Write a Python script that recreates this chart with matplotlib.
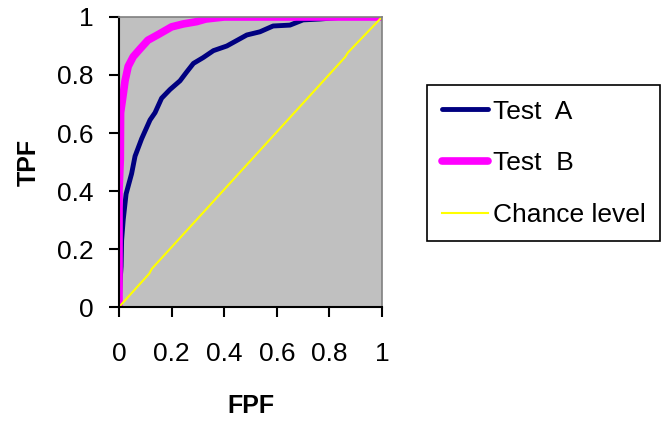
import matplotlib.pyplot as plt

# ROC curve points
fpf_a = [0.0, 0.005, 0.008, 0.01, 0.016, 0.027, 0.048, 0.061, 0.086, 0.118, 0.137,
         0.162, 0.194, 0.232, 0.257, 0.283, 0.32, 0.359, 0.41, 0.486, 0.536,
         0.586, 0.65, 0.70, 0.764, 0.86, 1.0]
tpf_a = [0.0, 0.10, 0.14, 0.23, 0.30, 0.39, 0.46, 0.52, 0.58, 0.645, 0.67,
         0.72, 0.75, 0.78, 0.81, 0.84, 0.86, 0.884, 0.90, 0.938, 0.949,
         0.969, 0.972, 0.99, 0.993, 1.0, 1.0]

fpf_b = [0.0, 0.0, 0.005, 0.006, 0.017, 0.023, 0.035, 0.054, 0.08, 0.11, 0.15,
         0.20, 0.244, 0.295, 0.33, 0.40, 1.0]
tpf_b = [0.0, 0.40, 0.51, 0.67, 0.74, 0.78, 0.83, 0.863, 0.89, 0.92, 0.94,
         0.966, 0.976, 0.984, 0.993, 1.0, 1.0]

fpf_c = [0.0, 0.115, 0.125, 0.86, 0.87, 1.0]
tpf_c = [0.0, 0.115, 0.132, 0.862, 0.877, 1.0]

ticks = [0, 0.2, 0.4, 0.6, 0.8, 1]
tick_labels = ["0", "0.2", "0.4", "0.6", "0.8", "1"]

plt.rcParams["font.family"] = ["Liberation Sans", "DejaVu Sans"]

fig = plt.figure(figsize=(6.67, 4.23), dpi=100)
ax = fig.add_axes([119 / 667, 1 - 307 / 423, 263 / 667, 290 / 423])
ax.set_facecolor("#C0C0C0")

ax.plot(fpf_a, tpf_a, color="#000080", lw=3.5, label="Test  A", solid_capstyle="round")
ax.plot(fpf_b, tpf_b, color="#FF00FF", lw=5.5, label="Test  B", solid_capstyle="round")
ax.plot(fpf_c, tpf_c, color="#FFFF00", lw=1.5, label="Chance level")

ax.set_xlim(0, 1)
ax.set_ylim(0, 1)
ax.set_xticks(ticks)
ax.set_xticklabels(tick_labels)
ax.set_yticks(ticks)
ax.set_yticklabels(tick_labels)
ax.tick_params(axis="both", direction="out", length=7, width=1.5, labelsize=19)
ax.tick_params(axis="x", pad=18)
ax.tick_params(axis="y", pad=11)

for side in ["left", "bottom"]:
    ax.spines[side].set_color("black")
    ax.spines[side].set_linewidth(1.5)
for side in ["top", "right"]:
    ax.spines[side].set_color("#808080")
    ax.spines[side].set_linewidth(1.2)

ax.set_xlabel("FPF", fontsize=18, fontweight="bold", labelpad=20)
ax.set_ylabel("TPF", fontsize=18, fontweight="bold", labelpad=12)

leg = ax.legend(loc="upper left", bbox_to_anchor=(427 / 667, 1 - 85 / 423),
                bbox_transform=fig.transFigure, borderaxespad=0, fontsize=19,
                fancybox=False, framealpha=1, edgecolor="black",
                handlelength=1.75, handletextpad=0.2, labelspacing=1.05,
                borderpad=0.55)
leg.get_frame().set_linewidth(1.2)

fig.savefig("out.png", dpi=100)
